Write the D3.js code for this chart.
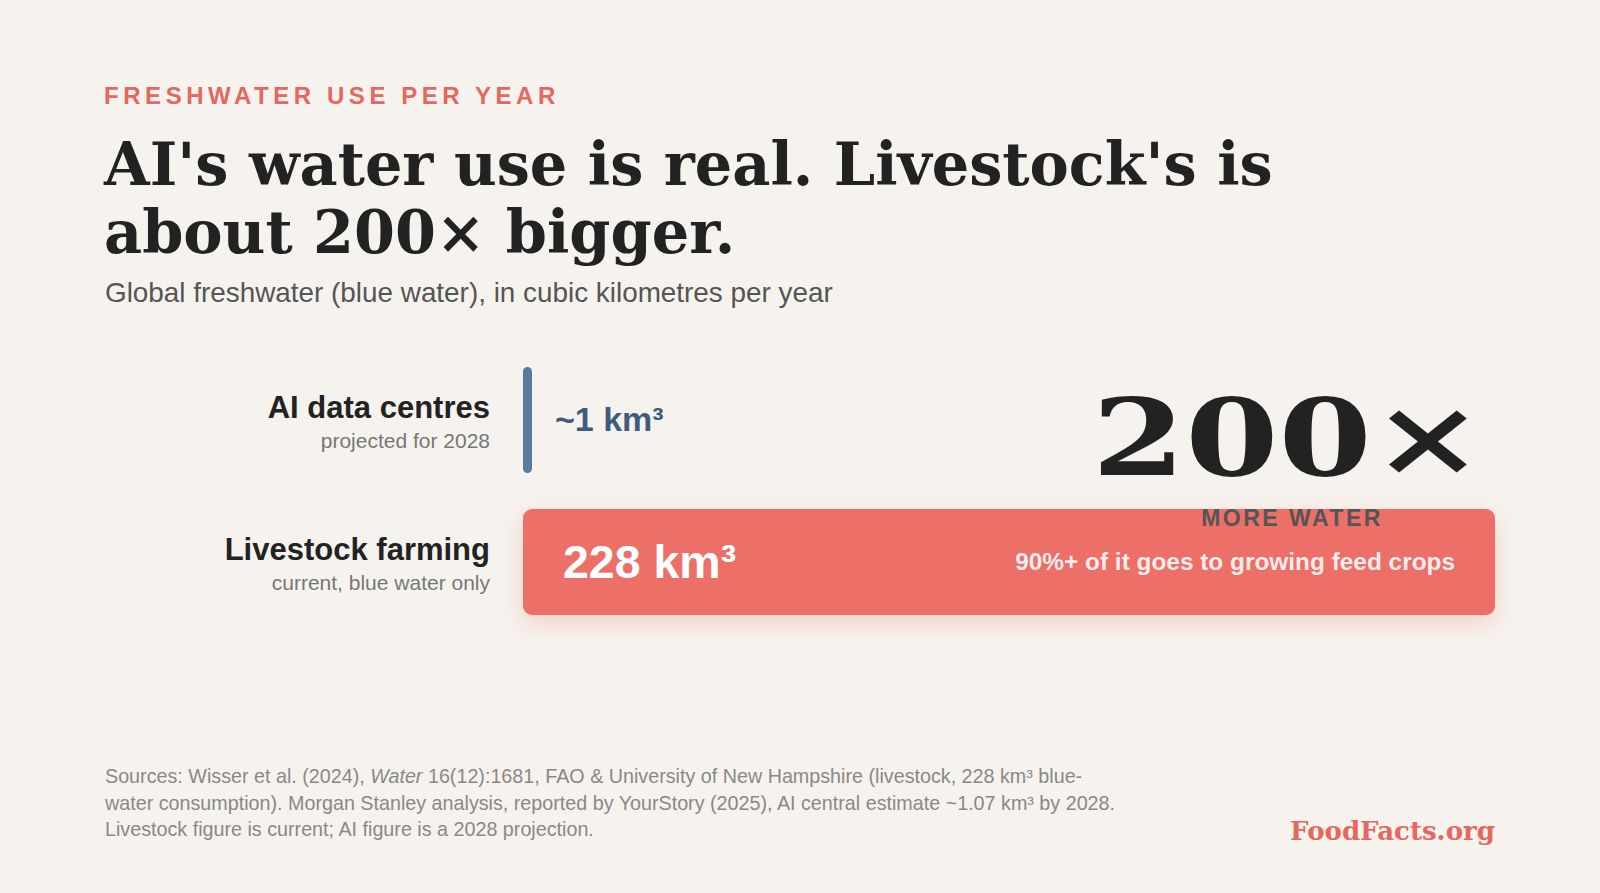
<!DOCTYPE html>
<html>
<head>
<meta charset="utf-8">
<script src="https://cdn.jsdelivr.net/npm/d3@7"></script>
<style>
  html, body { margin: 0; padding: 0; background: #f6f3ee; }
  svg { display: block; }
  .sans { font-family: "Liberation Sans", Arial, Helvetica, sans-serif; }
  .serif { font-family: "DejaVu Serif", Georgia, serif; }
</style>
</head>
<body>
<svg width="1600" height="893"></svg>
<script>
// data
const categories = ["AI data centres", "Livestock farming"];
const notes = ["projected for 2028", "current, blue water only"];
const values = [1, 228];
const valueLabels = ["~1 km³", "228 km³"];
const barColors = ["#5a7ba0", "#ec6f67"];

const eyebrow = "FRESHWATER USE PER YEAR";
const titleLines = ["AI's water use is real. Livestock's is", "about 200× bigger."];
const subtitle = "Global freshwater (blue water), in cubic kilometres per year";
const ratio = "200×";
const ratioNote = "MORE WATER";
const livestockNote = "90%+ of it goes to growing feed crops";

const coral = "#e5675f";
const svg = d3.select("svg");

// shrink/grow a text so it spans w pixels
function fit(sel, w) {
  const l = sel.node().getComputedTextLength();
  const fs = parseFloat(sel.attr("font-size"));
  const nfs = fs * w / l;
  sel.attr("font-size", nfs);
  return nfs;
}

const defs = svg.append("defs");
const f = defs.append("filter").attr("id", "glow")
  .attr("x", "-10%").attr("y", "-40%").attr("width", "120%").attr("height", "190%");
f.append("feDropShadow").attr("dx", 0).attr("dy", 8).attr("stdDeviation", 12)
  .attr("flood-color", "#ec6f67").attr("flood-opacity", 0.28);

// header
svg.append("text").attr("class", "sans")
  .attr("x", 104).attr("y", 104)
  .attr("font-size", 24).attr("font-weight", "bold")
  .attr("letter-spacing", 4.55).attr("fill", coral)
  .text(eyebrow);

const t1 = svg.append("text").attr("class", "serif")
  .attr("x", 104).attr("y", 185)
  .attr("font-size", 60).attr("font-weight", "bold").attr("fill", "#222")
  .text(titleLines[0]);
const tfs = fit(t1, 1169);
svg.append("text").attr("class", "serif")
  .attr("x", 104).attr("y", 253)
  .attr("font-size", tfs).attr("font-weight", "bold").attr("fill", "#222")
  .text(titleLines[1]);

const sub = svg.append("text").attr("class", "sans")
  .attr("x", 105).attr("y", 302)
  .attr("font-size", 26).attr("fill", "#555")
  .text(subtitle);
fit(sub, 728);

// bars
const x = d3.scaleLinear().domain([0, d3.max(values)]).range([523, 1495]);
const y = d3.scaleBand().domain(categories).range([367, 615]).paddingInner(0.2535);

const rows = svg.append("g").selectAll("g")
  .data(categories.map((c, i) => ({ c, note: notes[i], v: values[i], lab: valueLabels[i], col: barColors[i], i })))
  .join("g");

rows.append("rect")
  .attr("x", x(0))
  .attr("y", d => y(d.c))
  .attr("width", d => Math.max(x(d.v) - x(0), 9))
  .attr("height", y.bandwidth())
  .attr("rx", d => d.i === 0 ? 4.5 : 9)
  .attr("fill", d => d.col)
  .attr("filter", d => d.i === 1 ? "url(#glow)" : null);

rows.append("text").attr("class", "sans")
  .attr("x", 490)
  .attr("y", d => y(d.c) + y.bandwidth() / 2 - 2)
  .attr("text-anchor", "end")
  .attr("font-size", 31).attr("font-weight", "bold").attr("fill", "#222")
  .text(d => d.c);

rows.append("text").attr("class", "sans")
  .attr("x", 490)
  .attr("y", d => y(d.c) + y.bandwidth() / 2 + 28)
  .attr("text-anchor", "end")
  .attr("font-size", 21).attr("fill", "#777")
  .text(d => d.note);

// value labels: outside for tiny bar, inside for big one
rows.append("text").attr("class", "sans")
  .attr("x", d => d.i === 0 ? x(0) + Math.max(x(d.v) - x(0), 9) + 23 : x(0) + 40)
  .attr("y", d => y(d.c) + y.bandwidth() / 2 + (d.i === 0 ? 11 : 16))
  .attr("font-size", d => d.i === 0 ? 34 : 46.5)
  .attr("font-weight", "bold")
  .attr("fill", d => d.i === 0 ? "#3e5c7e" : "#fff")
  .text(d => d.lab);

svg.append("text").attr("class", "sans")
  .attr("x", x(d3.max(values)) - 40)
  .attr("y", y(categories[1]) + y.bandwidth() / 2 + 8)
  .attr("text-anchor", "end")
  .attr("font-size", 24.4).attr("font-weight", "bold")
  .attr("fill", "#fff").attr("fill-opacity", 0.88)
  .text(livestockNote);

// callout, stretched sideways to get the wide squat look
const big = svg.append("g").attr("transform", "translate(1288,475)")
  .append("text").attr("class", "serif")
  .attr("x", 0).attr("y", 0)
  .attr("text-anchor", "middle")
  .attr("font-size", 106).attr("font-weight", "bold")
  .attr("fill", "#222")
  .text(ratio);
const bw = big.node().getComputedTextLength();
big.attr("transform", `scale(${392 / bw},1)`);

svg.append("text").attr("class", "sans")
  .attr("x", 1292).attr("y", 526)
  .attr("text-anchor", "middle")
  .attr("font-size", 23).attr("font-weight", "bold")
  .attr("letter-spacing", 2.5).attr("fill", "#555")
  .text(ratioNote);

// footer
const foot = svg.append("text").attr("class", "sans")
  .attr("font-size", 19).attr("fill", "#8a8886");
const l1 = foot.append("tspan").attr("x", 105).attr("y", 783);
l1.append("tspan").text("Sources: Wisser et al. (2024), ");
l1.append("tspan").attr("font-style", "italic").text("Water");
l1.append("tspan").text(" 16(12):1681, FAO & University of New Hampshire (livestock, 228 km³ blue-");
const l2 = foot.append("tspan").attr("x", 105).attr("y", 809.5)
  .text("water consumption). Morgan Stanley analysis, reported by YourStory (2025), AI central estimate ~1.07 km³ by 2028.");
foot.append("tspan").attr("x", 105).attr("y", 836)
  .text("Livestock figure is current; AI figure is a 2028 projection.");
foot.attr("font-size", 19 * 1011 / l2.node().getComputedTextLength());

const brand = svg.append("text").attr("class", "serif")
  .attr("x", 1495).attr("y", 840)
  .attr("text-anchor", "end")
  .attr("font-size", 28).attr("font-weight", "bold").attr("fill", coral)
  .text("FoodFacts.org");
fit(brand, 205);
</script>
</body>
</html>
